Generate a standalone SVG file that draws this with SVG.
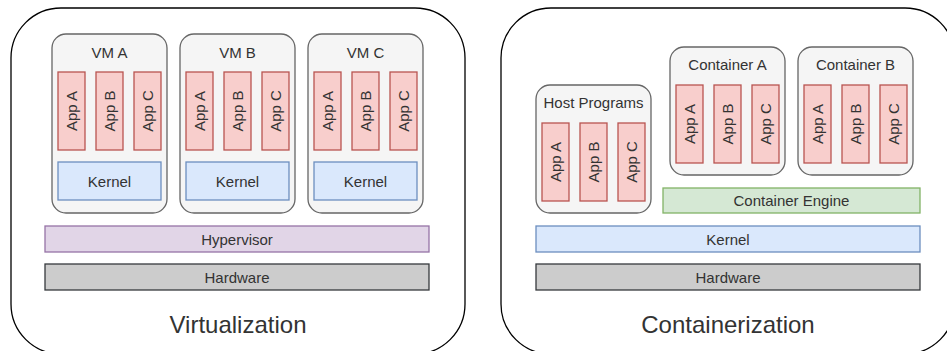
<svg xmlns="http://www.w3.org/2000/svg" width="947" height="351" viewBox="0 0 947 351">
<style>
text{font-family:"Liberation Sans",Arial,sans-serif;fill:#333333;}
.outer{fill:#ffffff;stroke:#000000;stroke-width:1.3;}
.vm{fill:#f5f5f5;stroke:#666666;stroke-width:1.3;}
.app{fill:#f8cecc;stroke:#b85450;stroke-width:1.3;}
.kern{fill:#dae8fc;stroke:#6c8ebf;stroke-width:1.3;}
.hyp{fill:#e1d5e7;stroke:#9673a6;stroke-width:1.3;}
.hw{fill:#cccccc;stroke:#36393d;stroke-width:1.3;}
.eng{fill:#d5e8d4;stroke:#82b366;stroke-width:1.3;}
.lbl{font-size:15px;text-anchor:middle;dominant-baseline:central;}
.title{font-size:24px;text-anchor:middle;}
</style>
<g id="virtualization">
<rect class="outer" x="11" y="8" width="454" height="346" rx="50"/>
<text class="title" x="238" y="333">Virtualization</text>
</g>
<g id="containerization">
<rect class="outer" x="501" y="8" width="454" height="346" rx="50"/>
<text class="title" x="728" y="333">Containerization</text>
</g>
<g id="vm-a">
<rect class="vm" x="52" y="34" width="115" height="179" rx="14"/>
<text class="lbl" x="109.5" y="52">VM A</text>
<rect class="app" x="58" y="72" width="27" height="78"/>
<text class="lbl" transform="translate(71.5,111) rotate(-90)">App A</text>
<rect class="app" x="96" y="72" width="27" height="78"/>
<text class="lbl" transform="translate(109.5,111) rotate(-90)">App B</text>
<rect class="app" x="134" y="72" width="27" height="78"/>
<text class="lbl" transform="translate(147.5,111) rotate(-90)">App C</text>
<rect class="kern" x="58" y="162" width="103" height="38"/>
<text class="lbl" x="109.5" y="181">Kernel</text>
</g>
<g id="vm-b">
<rect class="vm" x="180" y="34" width="115" height="179" rx="14"/>
<text class="lbl" x="237.5" y="52">VM B</text>
<rect class="app" x="186" y="72" width="27" height="78"/>
<text class="lbl" transform="translate(199.5,111) rotate(-90)">App A</text>
<rect class="app" x="224" y="72" width="27" height="78"/>
<text class="lbl" transform="translate(237.5,111) rotate(-90)">App B</text>
<rect class="app" x="262" y="72" width="27" height="78"/>
<text class="lbl" transform="translate(275.5,111) rotate(-90)">App C</text>
<rect class="kern" x="186" y="162" width="103" height="38"/>
<text class="lbl" x="237.5" y="181">Kernel</text>
</g>
<g id="vm-c">
<rect class="vm" x="308" y="34" width="115" height="179" rx="14"/>
<text class="lbl" x="365.5" y="52">VM C</text>
<rect class="app" x="314" y="72" width="27" height="78"/>
<text class="lbl" transform="translate(327.5,111) rotate(-90)">App A</text>
<rect class="app" x="352" y="72" width="27" height="78"/>
<text class="lbl" transform="translate(365.5,111) rotate(-90)">App B</text>
<rect class="app" x="390" y="72" width="27" height="78"/>
<text class="lbl" transform="translate(403.5,111) rotate(-90)">App C</text>
<rect class="kern" x="314" y="162" width="103" height="38"/>
<text class="lbl" x="365.5" y="181">Kernel</text>
</g>
<g id="hypervisor">
<rect class="hyp" x="45" y="226" width="384" height="26"/>
<text class="lbl" x="237" y="239">Hypervisor</text>
</g>
<g id="hardware-left">
<rect class="hw" x="45" y="264" width="384" height="26"/>
<text class="lbl" x="237" y="277">Hardware</text>
</g>
<g id="host-programs">
<rect class="vm" x="536" y="85" width="115" height="128" rx="14"/>
<text class="lbl" x="593.5" y="102">Host Programs</text>
<rect class="app" x="542" y="123" width="27" height="78"/>
<text class="lbl" transform="translate(555.5,162) rotate(-90)">App A</text>
<rect class="app" x="580" y="123" width="27" height="78"/>
<text class="lbl" transform="translate(593.5,162) rotate(-90)">App B</text>
<rect class="app" x="618" y="123" width="27" height="78"/>
<text class="lbl" transform="translate(631.5,162) rotate(-90)">App C</text>
</g>
<g id="container-a">
<rect class="vm" x="670" y="47" width="115" height="128" rx="14"/>
<text class="lbl" x="727.5" y="64">Container A</text>
<rect class="app" x="676" y="85" width="27" height="78"/>
<text class="lbl" transform="translate(689.5,124) rotate(-90)">App A</text>
<rect class="app" x="714" y="85" width="27" height="78"/>
<text class="lbl" transform="translate(727.5,124) rotate(-90)">App B</text>
<rect class="app" x="752" y="85" width="27" height="78"/>
<text class="lbl" transform="translate(765.5,124) rotate(-90)">App C</text>
</g>
<g id="container-b">
<rect class="vm" x="798" y="47" width="115" height="128" rx="14"/>
<text class="lbl" x="855.5" y="64">Container B</text>
<rect class="app" x="804" y="85" width="27" height="78"/>
<text class="lbl" transform="translate(817.5,124) rotate(-90)">App A</text>
<rect class="app" x="842" y="85" width="27" height="78"/>
<text class="lbl" transform="translate(855.5,124) rotate(-90)">App B</text>
<rect class="app" x="880" y="85" width="27" height="78"/>
<text class="lbl" transform="translate(893.5,124) rotate(-90)">App C</text>
</g>
<g id="container-engine">
<rect class="eng" x="663" y="188" width="257" height="25"/>
<text class="lbl" x="791.5" y="200.5">Container Engine</text>
</g>
<g id="kernel-right">
<rect class="kern" x="536" y="226" width="384" height="26"/>
<text class="lbl" x="728" y="239">Kernel</text>
</g>
<g id="hardware-right">
<rect class="hw" x="536" y="264" width="384" height="26"/>
<text class="lbl" x="728" y="277">Hardware</text>
</g>
<g id="connectors"></g>
</svg>
